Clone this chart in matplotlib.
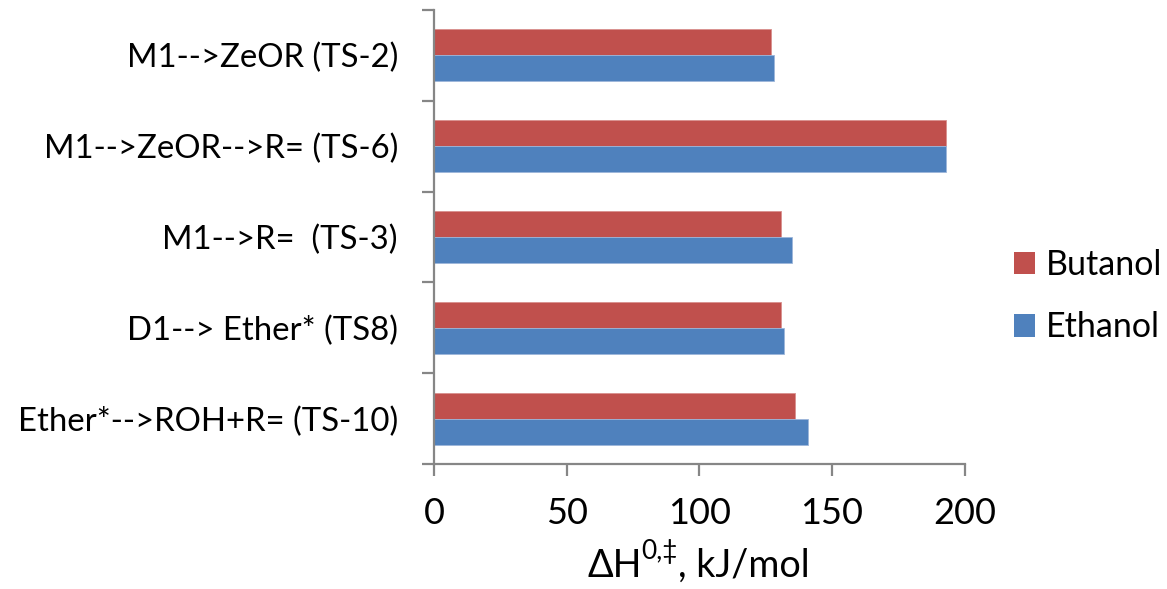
import matplotlib
matplotlib.use("Agg")
import matplotlib.pyplot as plt
import numpy as np
from matplotlib.patches import Patch

plt.rcParams['font.family'] = ['Lato', 'DejaVu Sans']

categories = ["M1-->ZeOR (TS-2)", "M1-->ZeOR-->R= (TS-6)", "M1-->R=  (TS-3)",
              "D1--> Ether* (TS8)", "Ether*-->ROH+R= (TS-10)"]
butanol = [127, 193, 131, 131, 136]
ethanol = [128, 193, 135, 132, 141]
xticks = [0, 50, 100, 150, 200]

red = "#C0504D"
blue = "#4F81BD"
axis_gray = "#868686"

fig = plt.figure(figsize=(11.67, 5.89), dpi=100)
ax = fig.add_axes([434 / 1167, 1 - 464 / 589, (964.5 - 434) / 1167, (464 - 10) / 589])

y = np.arange(len(categories))
h = 0.286
ax.barh(y - h / 2, butanol, height=h, color=red, edgecolor="#D8908E", linewidth=0.6)
ax.barh(y + h / 2, ethanol, height=h, color=blue, edgecolor="#9DB6DA", linewidth=0.6)

ax.set_xlim(0, 200)
ax.set_ylim(len(categories) - 0.5, -0.5)

ax.set_xticks(xticks)
ax.set_xticklabels([str(v) for v in xticks], fontsize=26)
ax.set_yticks(np.arange(len(categories) + 1) - 0.5)
ax.set_yticklabels([])
ax.set_yticks(y, minor=True)
ax.set_yticklabels(categories, minor=True, fontsize=23.7)

ax.tick_params(axis='x', which='major', direction='out', length=8.5, width=1.6,
               color=axis_gray, pad=15)
ax.tick_params(axis='y', which='major', direction='out', length=8.5, width=1.6,
               color=axis_gray)
ax.tick_params(axis='y', which='minor', length=0, pad=26)

for s in ("top", "right"):
    ax.spines[s].set_visible(False)
for s in ("left", "bottom"):
    ax.spines[s].set_color(axis_gray)
    ax.spines[s].set_linewidth(1.6)

# x-axis title with a raised "0,‡" superscript
t1 = fig.text(587 / 1167, 5 / 589, "ΔH", fontsize=27.2, ha="left", va="bottom")
t2 = ax.annotate("0,‡", xy=(1, 0.55), xycoords=t1, fontsize=19,
                 ha="left", va="bottom", annotation_clip=False)
t3 = ax.annotate(", kJ/mol", xy=(1, 0), xycoords=(t2, t1), fontsize=27.2,
                 ha="left", va="bottom", annotation_clip=False)

handles = [Patch(facecolor=red, edgecolor="none", label="Butanol"),
           Patch(facecolor=blue, edgecolor="none", label="Ethanol")]
fig.legend(handles=handles, loc="center left", bbox_to_anchor=(1014 / 1167, 1 - 296 / 589),
           frameon=False, fontsize=24.5, handlelength=0.62, handleheight=0.62,
           handletextpad=0.32, labelspacing=0.91, borderpad=0, borderaxespad=0)

fig.savefig("out.png", dpi=100)
